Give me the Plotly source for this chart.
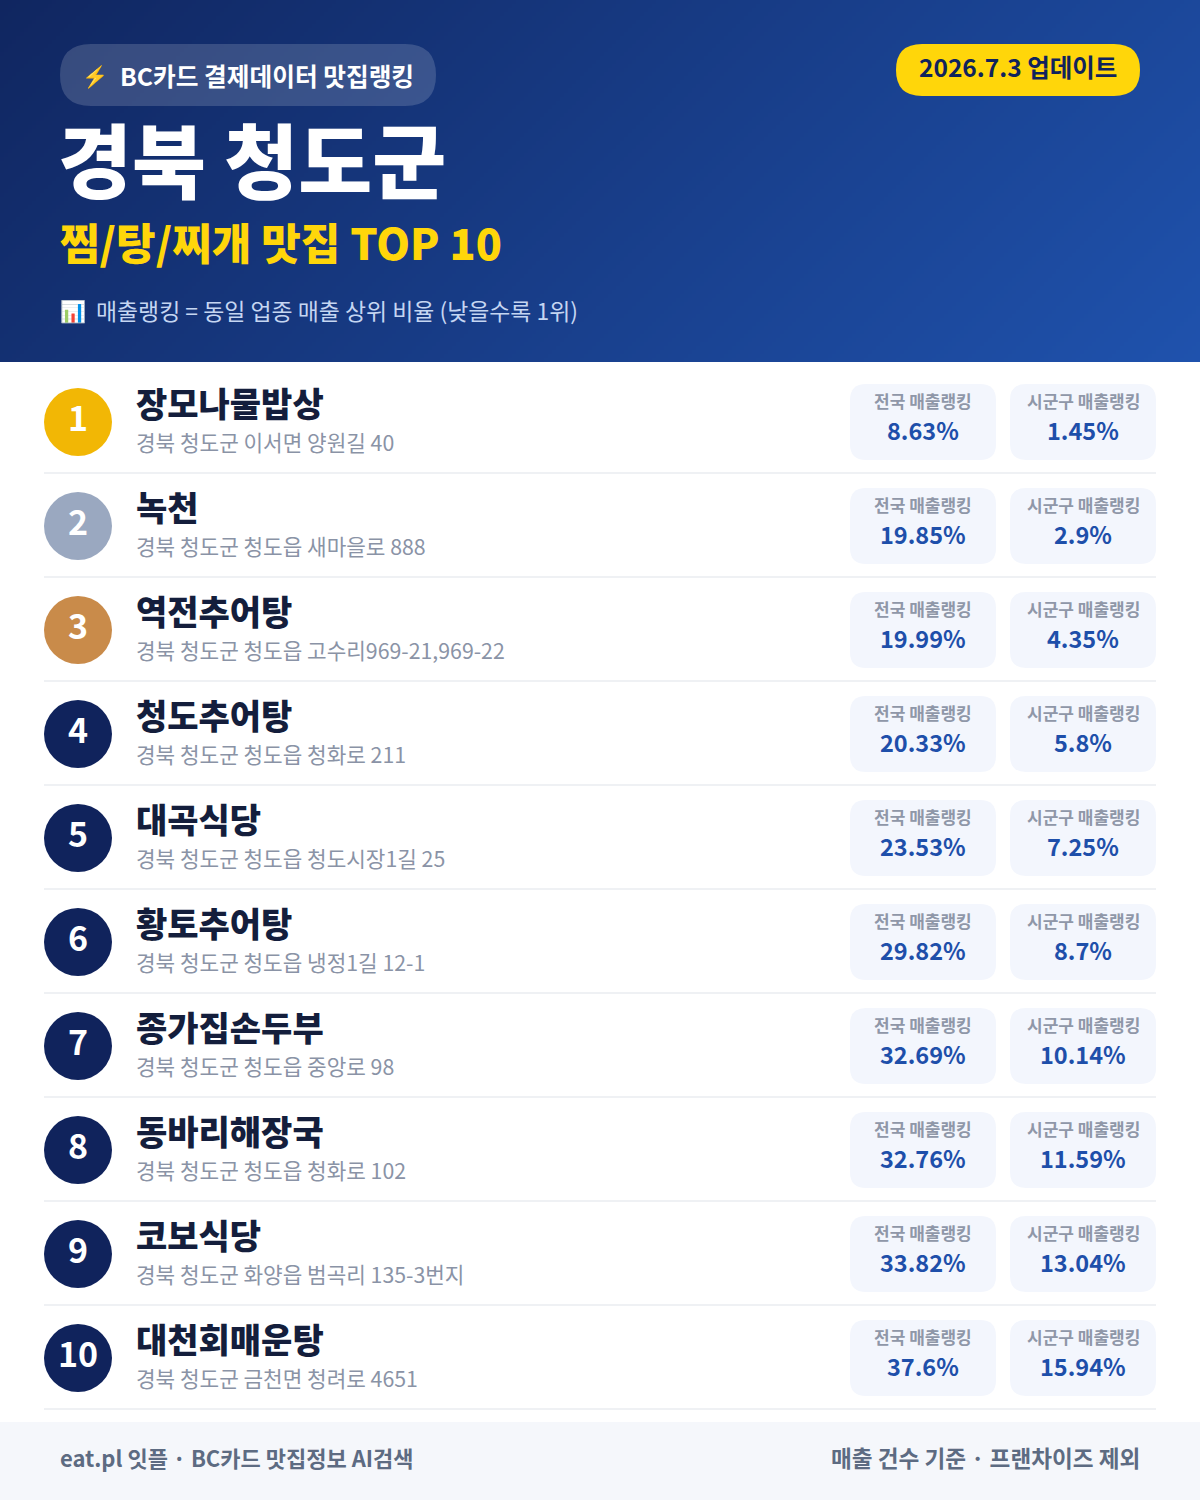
"""
plot.py — 경북 청도군 찜/탕/찌개 맛집 TOP 10 ranking card.
"""

import numpy as np
import plotly.graph_objects as go

FONT = "Noto Sans CJK KR"

ranks = list(range(1, 11))
names = ["장모나물밥상", "녹천", "역전추어탕", "청도추어탕", "대곡식당",
         "황토추어탕", "종가집손두부", "동바리해장국", "코보식당", "대천회매운탕"]
addresses = [
    "경북 청도군 이서면 양원길 40",
    "경북 청도군 청도읍 새마을로 888",
    "경북 청도군 청도읍 고수리969-21,969-22",
    "경북 청도군 청도읍 청화로 211",
    "경북 청도군 청도읍 청도시장1길 25",
    "경북 청도군 청도읍 냉정1길 12-1",
    "경북 청도군 청도읍 중앙로 98",
    "경북 청도군 청도읍 청화로 102",
    "경북 청도군 화양읍 범곡리 135-3번지",
    "경북 청도군 금천면 청려로 4651",
]
national_rank = ["8.63%", "19.85%", "19.99%", "20.33%", "23.53%",
                 "29.82%", "32.69%", "32.76%", "33.82%", "37.6%"]
local_rank = ["1.45%", "2.9%", "4.35%", "5.8%", "7.25%",
              "8.7%", "10.14%", "11.59%", "13.04%", "15.94%"]
badge_colors = ["#f2b705", "#9aa8c0", "#c98b4a"] + ["#10235c"] * 7


def round_rect(x0, y0, x1, y1, r, fill):
    path = (f"M{x0+r},{y0} L{x1-r},{y0} Q{x1},{y0} {x1},{y0+r} L{x1},{y1-r} Q{x1},{y1} {x1-r},{y1} "
            f"L{x0+r},{y1} Q{x0},{y1} {x0},{y1-r} L{x0},{y0+r} Q{x0},{y0} {x0+r},{y0} Z")
    return dict(type="path", path=path, fillcolor=fill, line_width=0, layer="above")


def label(x, y, text, size, color, anchor="left", weight=400):
    return dict(x=x, y=y, text=text, showarrow=False, xanchor=anchor, yanchor="middle", align=anchor,
                borderpad=0, borderwidth=0,
                font=dict(family=FONT, size=size, color=color, weight=weight))


row_y = [422 + 104 * i for i in range(len(ranks))]
fig = go.Figure()

# header gradient, 135deg
gx = np.linspace(0, 1200, 301)
gy = np.linspace(0, 362, 91)
gz = (gx[:-1][None, :] + gy[:-1][:, None])
fig.add_trace(go.Heatmap(x=gx, y=gy, z=gz, showscale=False, hoverinfo="skip",
                         colorscale=[[0, "#102660"], [1, "#1f52ad"]]))

shapes = [
    dict(type="rect", x0=0, x1=1200, y0=1422, y1=1500, fillcolor="#f5f7fb", line_width=0, layer="below"),
    round_rect(60, 44, 436, 106, 31, "rgba(255,255,255,0.16)"),
    round_rect(896, 44, 1140, 96, 26, "#ffd60a"),
]
for y in row_y:
    shapes.append(dict(type="rect", x0=44, x1=1156, y0=y + 50, y1=y + 52, fillcolor="#eff1f4",
                       line_width=0, layer="below"))
    shapes.append(round_rect(850, y - 38, 996, y + 38, 16, "#f3f6fd"))
    shapes.append(round_rect(1010, y - 38, 1156, y + 38, 16, "#f3f6fd"))

fig.add_trace(go.Scatter(x=[78] * len(ranks), y=row_y, mode="markers", hoverinfo="skip",
                         marker=dict(size=68, color=badge_colors, line_width=0)))

notes = [
    label(95, 75, "⚡", 21, "#ffd60a", "center"),
    label(120, 75, "BC카드 결제데이터 맛집랭킹", 24.7, "#ffffff", weight=700),
    label(1018, 66, "2026.7.3 업데이트", 24.5, "#10235c", "center", 700),
    label(58, 157, "경북 청도군", 80.4, "#ffffff", weight=900),
    label(60, 241, "찜/탕/찌개 맛집 TOP 10", 43, "#ffd60a", weight=900),
    label(60, 310, "📊", 21, "#ffffff"),
    label(96, 310, "매출랭킹 = 동일 업종 매출 상위 비율 (낮을수록 1위)", 22.9, "#c5d6f2"),
    label(60, 1457, "eat.pl 잇플 · BC카드 맛집정보 AI검색", 22, "#5d6b82", weight=700),
    label(1140, 1457, "매출 건수 기준 · 프랜차이즈 제외", 22.6, "#5d6b82", "right", 700),
]
for i, y in enumerate(row_y):
    notes += [
        label(78, y - 6, str(ranks[i]), 34, "#ffffff", "center", 700),
        label(136, y - 20, names[i], 34, "#141e3c", weight=900),
        label(136, y + 19, addresses[i], 21.3, "#8a93a6"),
        label(923, y - 22, "전국 매출랭킹", 17, "#8f97a8", "center", 700),
        label(1083, y - 22, "시군구 매출랭킹", 17, "#8f97a8", "center", 700),
        label(923, y + 8, national_rank[i], 23.5, "#1e4faa", "center", 700),
        label(1083, y + 8, local_rank[i], 23.5, "#1e4faa", "center", 700),
    ]

fig.update_layout(
    width=1200, height=1500, showlegend=False,
    margin=dict(l=0, r=0, t=0, b=0),
    paper_bgcolor="#ffffff", plot_bgcolor="#ffffff",
    font=dict(family=FONT),
    xaxis=dict(range=[0, 1200], visible=False, fixedrange=True),
    yaxis=dict(range=[1500, 0], visible=False, fixedrange=True),
    shapes=shapes,
    annotations=notes,
)

fig.write_html("out.html", post_script="document.body.style.margin='0';",
               config=dict(displayModeBar=False))
